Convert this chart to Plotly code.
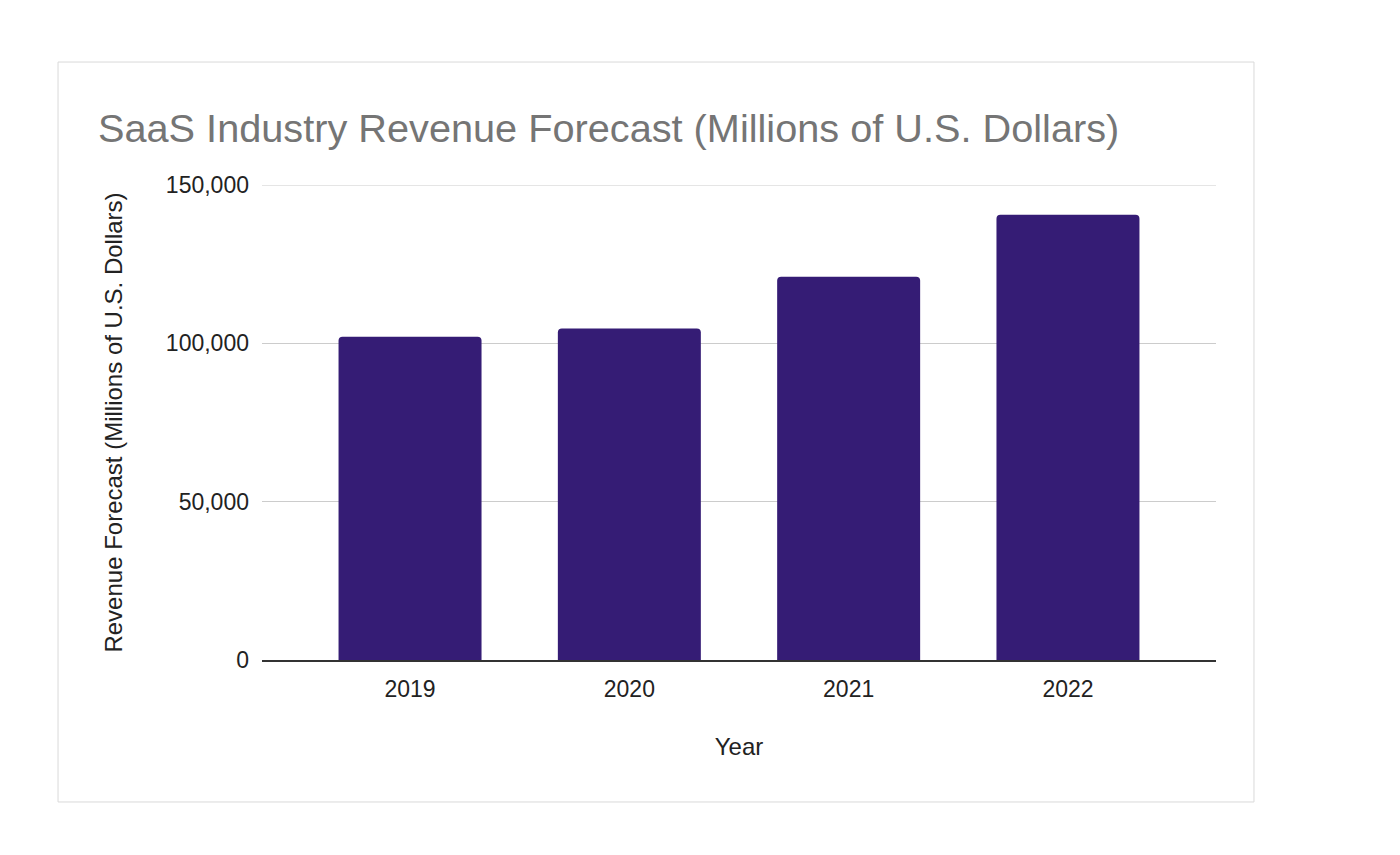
import plotly.graph_objects as go

years = ["2019", "2020", "2021", "2022"]
revenue = [102064, 104672, 120990, 140629]
y_ticks = [0, 50000, 100000, 150000]

bar_color = "#351c75"

fig = go.Figure()
fig.add_trace(go.Bar(x=years, y=revenue, marker=dict(color=bar_color, line=dict(width=0))))

# card border around the chart
fig.add_shape(type="rect", xref="paper", yref="paper",
              x0=-0.2138, x1=1.0398, y0=-0.2989, y1=1.2589,
              line=dict(color="#d9d9d9", width=1), fillcolor="rgba(0,0,0,0)", layer="below")
# top gridline sits on the plot edge, plotly drops it, so draw it here
fig.add_shape(type="line", xref="paper", yref="y", x0=0, x1=1,
              y0=y_ticks[-1], y1=y_ticks[-1],
              line=dict(color="#cccccc", width=1), layer="below")

fig.update_layout(
    width=1400, height=855,
    margin=dict(l=254, r=192, t=177, b=203),
    paper_bgcolor="white", plot_bgcolor="white",
    font=dict(family="Liberation Sans, Arial, sans-serif", color="#222222", size=23),
    title=dict(text="SaaS Industry Revenue Forecast (Millions of U.S. Dollars)",
               x=90 / 1400, xanchor="left", y=1 - 120 / 855, yanchor="middle",
               font=dict(size=39.7, color="#757575")),
    bargap=0.348,
    barcornerradius=4,
    showlegend=False,
)
fig.update_xaxes(
    range=[-0.675, 3.675],
    showgrid=False, showline=True, linecolor="#333333", linewidth=1.5,
    ticks="", ticklabelstandoff=8,
    title=dict(text="Year", standoff=37, font=dict(size=24)),
)
fig.update_yaxes(
    range=[0, 150000], tickvals=y_ticks, tickformat=",",
    showgrid=True, gridcolor="#cccccc", gridwidth=1, zeroline=False,
    ticks="", ticklabelstandoff=12,
    title=dict(text="Revenue Forecast (Millions of U.S. Dollars)", standoff=36, font=dict(size=24)),
)

fig.write_html("out.html")
